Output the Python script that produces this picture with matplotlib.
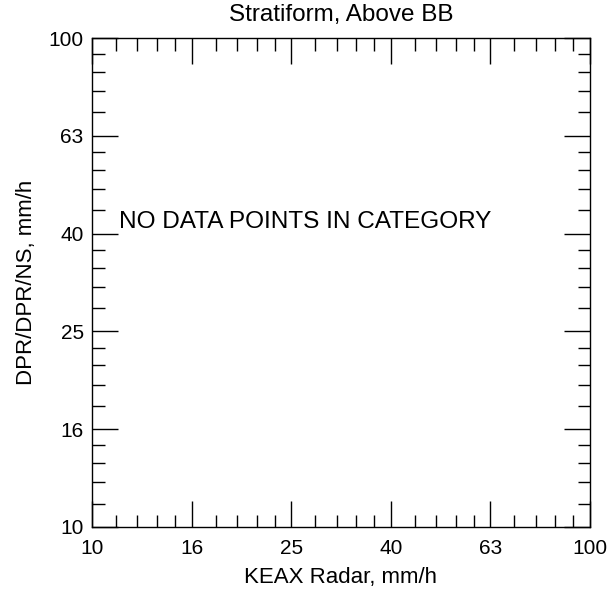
import numpy as np
import matplotlib
matplotlib.use("Agg")
import matplotlib.pyplot as plt
from matplotlib.ticker import FixedLocator, FixedFormatter, NullFormatter

plt.rcParams["font.family"] = ["Liberation Sans", "DejaVu Sans"]

# axis setup, IDL-style log axes with 5 equal major intervals
axis_min = 10.0
axis_max = 100.0
tick_labels = ["10", "16", "25", "40", "63", "100"]
title = "Stratiform, Above BB"
xlabel = "KEAX Radar, mm/h"
ylabel = "DPR/DPR/NS, mm/h"
message = "NO DATA POINTS IN CATEGORY"

major = axis_min * 10 ** (np.arange(len(tick_labels)) * 0.2)
minor = []
for lo, hi in zip(major[:-1], major[1:]):
    step = (hi - lo) / 5
    minor.extend(lo + step * np.arange(1, 5))

fig = plt.figure(figsize=(6.12, 5.91), dpi=100)
ax = fig.add_axes([92 / 612, 1 - 527 / 591, 498 / 612, 489 / 591])
ax.set_xscale("log")
ax.set_yscale("log")
ax.set_xlim(axis_min, axis_max)
ax.set_ylim(axis_min, axis_max)

for axis in (ax.xaxis, ax.yaxis):
    axis.set_major_locator(FixedLocator(major))
    axis.set_major_formatter(FixedFormatter(tick_labels))
    axis.set_minor_locator(FixedLocator(minor))
    axis.set_minor_formatter(NullFormatter())

ax.tick_params(which="both", direction="in", top=True, right=True,
               width=1, color="black", labelsize=15)
ax.tick_params(axis="x", which="both", pad=9)
ax.tick_params(axis="y", which="both", pad=6)
ax.tick_params(which="major", length=19)
ax.tick_params(which="minor", length=9)
for sp in ax.spines.values():
    sp.set_linewidth(1)

ax.set_title(title, fontsize=17.5, pad=12)
ax.set_xlabel(xlabel, fontsize=16, labelpad=6)
ax.set_ylabel(ylabel, fontsize=16, labelpad=8)

ax.text(0.054, 0.624, message, transform=ax.transAxes, fontsize=17.6,
        ha="left", va="center")

fig.savefig("out.png", dpi=100)
